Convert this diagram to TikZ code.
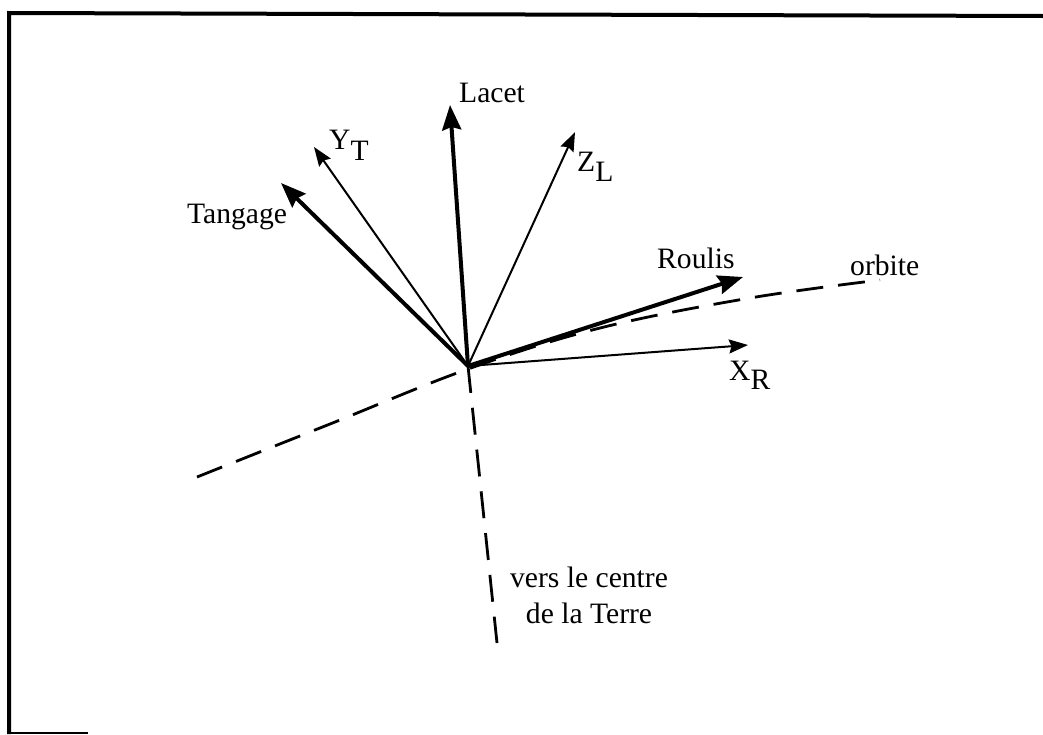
\documentclass[tikz,border=0pt]{standalone}
\usepackage{fontspec}
\setmainfont{Liberation Serif}
\usetikzlibrary{arrows.meta}
\begin{document}
\begin{tikzpicture}[x=1pt,y=-1pt,
  thickarrow/.style={line width=4pt,-{Stealth[length=25pt,width=19pt,inset=3pt]}},
  thinarrow/.style={line width=2pt,-{Stealth[length=19pt,width=14pt,inset=2.5pt]}},
  dashline/.style={line width=2.8pt,dash pattern=on 27pt off 15pt},
  lbl/.style={inner sep=0pt,anchor=base west,font=\fontsize{29.6}{36}\selectfont},
  frameline/.style={line width=4pt}]
\useasboundingbox (0,0) rectangle (1043,734);
% frame
\coordinate (ftl) at (9,13);
\coordinate (ftr) at (1043,16);
\coordinate (fbl) at (9,734);
\coordinate (fbs) at (7,733);
\coordinate (fbm) at (88,733);
\draw[frameline] (ftr) -- (ftl) -- (fbl);
\draw[line width=2pt] (fbs) -- (fbm);
% origin and tips
\coordinate (O) at (468,366);
\coordinate (lacet) at (450,105);
\coordinate (tangage) at (281,183);
\coordinate (roulis) at (743,277);
\coordinate (yt) at (314,147);
\coordinate (zl) at (575,132);
\coordinate (xr) at (748,345);
\coordinate (terre) at (497,643);
% dashed lines
\draw[dashline] plot[smooth,tension=0.6] coordinates {(197,477) (330,424) (468,369) (600,328) (750,298) (880,280)};
\draw[dashline] (O) -- (terre);
% arrows
\draw[thinarrow] (O) -- (yt);
\draw[thinarrow] (O) -- (zl);
\draw[thinarrow] (O) -- (xr);
\draw[thickarrow] (O) -- (lacet);
\draw[thickarrow] (O) -- (tangage);
\draw[thickarrow] (O) -- (roulis);
% labels
\node[lbl] (Llacet) at (459,102) {Lacet};
\node[lbl] (Ltangage) at (187,223) {Tangage};
\node[lbl] (Lroulis) at (657,268) {Roulis};
\node[lbl] (Lorbite) at (850,275) {orbite};
\node[lbl] (Lyt) at (329,149) {Y\raisebox{-11pt}{T}};
\node[lbl] (Lzl) at (577,171) {Z\raisebox{-10pt}{L}};
\node[lbl] (Lxr) at (729,380) {X\raisebox{-9pt}{R}};
\node[inner sep=0pt,anchor=base,font=\fontsize{29.6}{36}\selectfont,align=center] (Lterre) at (589,623) {vers le centre\\de la Terre};
\end{tikzpicture}
\end{document}
